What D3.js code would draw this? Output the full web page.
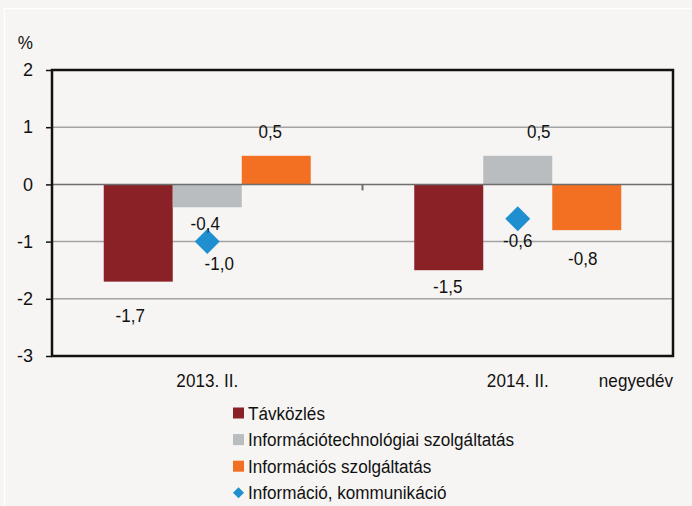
<!DOCTYPE html>
<html>
<head>
<meta charset="utf-8">
<script src="https://cdn.jsdelivr.net/npm/d3@7"></script>
<style>
  body { margin: 0; background: #f6f5f3; }
  svg { display: block; font-family: "Liberation Sans", Arial, sans-serif; }
</style>
</head>
<body>
<svg id="drawing_region"></svg>
<script>
// data
const categories = ["2013. II.", "2014. II."];
const barSeries = ["Távközlés", "Információtechnológiai szolgáltatás", "Információs szolgáltatás"];
const tavkozles = [-1.7, -1.5];
const infotech = [-0.4, 0.5];
const infoszolg = [0.5, -0.8];
const infoKomm = [-1.0, -0.6];
const pointSeries = "Információ, kommunikáció";
const yTicks = [2, 1, 0, -1, -2, -3];

// label nudges (px) relative to default spot, per series per category
const barLabelNudge = [
  [[-8, 18], [-1, 0]],
  [[-2, 0], [21, 0]],
  [[-6, 0], [-4, 12]]
];
const pointLabelNudge = [[12, 0], [0, 0]];

const colors = ["#8a2127", "#b9bdc0", "#f37022"];
const diamondColor = "#1f8fd0";

const config = {
  width: 692,
  height: 506,
  margin: { top: 70, right: 19, bottom: 150, left: 52 }
};

// text drawn slightly condensed like the original (narrow Arial look)
function addText(parent, x, y, str, size, sx, anchor) {
  return parent.append("text")
    .attr("transform", `translate(${x}, ${y}) scale(${sx}, 1)`)
    .attr("dy", "0.35em")
    .attr("text-anchor", anchor || "middle")
    .attr("font-size", size + "px")
    .attr("fill", "#111")
    .text(str);
}

const svg = d3.select("#drawing_region")
  .attr("width", config.width)
  .attr("height", config.height);

svg.append("rect")
  .attr("x", 4.5).attr("y", 8.5)
  .attr("width", 720).attr("height", 520)
  .attr("fill", "#f6f5f3")
  .attr("stroke", "#ffffff")
  .attr("stroke-width", 1.5);

const inner_width = config.width - config.margin.left - config.margin.right;
const inner_height = 356 - config.margin.top;

const chart = svg.append("g")
  .attr("transform", `translate(${config.margin.left}, ${config.margin.top})`);

const xscale = d3.scaleBand()
  .domain(categories)
  .range([0, inner_width])
  .paddingInner(1 / 3)
  .paddingOuter(1 / 6);

const xsub = d3.scaleBand()
  .domain(barSeries)
  .range([0, xscale.bandwidth()]);

const yscale = d3.scaleLinear()
  .domain([-3, 2])
  .range([inner_height, 0]);

// gridlines
chart.selectAll(".grid")
  .data(yTicks.filter(d => d !== 0 && d !== 2 && d !== -3))
  .enter()
  .append("line")
  .attr("x1", 0).attr("x2", inner_width)
  .attr("y1", d => yscale(d)).attr("y2", d => yscale(d))
  .attr("stroke", "#a4a4a4")
  .attr("stroke-width", 1.5);

// bars
const barData = [tavkozles, infotech, infoszolg];
barSeries.forEach((s, i) => {
  chart.selectAll(".bar" + i)
    .data(barData[i])
    .enter()
    .append("rect")
    .attr("x", (d, j) => xscale(categories[j]) + xsub(s))
    .attr("y", d => yscale(Math.max(0, d)))
    .attr("width", xsub.bandwidth())
    .attr("height", d => Math.abs(yscale(d) - yscale(0)))
    .attr("fill", colors[i]);
});

// zero line
chart.append("line")
  .attr("x1", 0).attr("x2", inner_width)
  .attr("y1", yscale(0)).attr("y2", yscale(0))
  .attr("stroke", "#6e6e6e")
  .attr("stroke-width", 1.5);

// category separator tick on zero line
chart.append("line")
  .attr("x1", inner_width / 2).attr("x2", inner_width / 2)
  .attr("y1", yscale(0)).attr("y2", yscale(0) + 6)
  .attr("stroke", "#6e6e6e")
  .attr("stroke-width", 2);

// diamonds
chart.selectAll(".diamond")
  .data(infoKomm)
  .enter()
  .append("path")
  .attr("d", d3.symbol(d3.symbolSquare, 313))
  .attr("transform", (d, j) => `translate(${xscale(categories[j]) + xscale.bandwidth() / 2}, ${yscale(d)}) rotate(45)`)
  .attr("fill", diamondColor);

const fmt = v => d3.format(".1f")(v).replace(".", ",").replace("−", "-");

// bar labels
barSeries.forEach((s, i) => {
  barData[i].forEach((d, j) => {
    const x = xscale(categories[j]) + xsub(s) + xsub.bandwidth() / 2 + barLabelNudge[i][j][0];
    const y = (d < 0 ? yscale(d) + 16 : yscale(d) - 24) + barLabelNudge[i][j][1];
    addText(chart, x, y, fmt(d), 18.5, 0.92);
  });
});

// diamond labels
infoKomm.forEach((d, j) => {
  const x = xscale(categories[j]) + xscale.bandwidth() / 2 + pointLabelNudge[j][0];
  const y = yscale(d) + 22 + pointLabelNudge[j][1];
  addText(chart, x, y, fmt(d), 18.5, 0.92);
});

// frame
chart.append("rect")
  .attr("x", 0).attr("y", 0)
  .attr("width", inner_width).attr("height", inner_height)
  .attr("fill", "none")
  .attr("stroke", "#111")
  .attr("stroke-width", 2.5);

// y axis
const yaxis = d3.axisLeft(yscale)
  .tickValues(yTicks)
  .tickSize(6)
  .tickPadding(13)
  .tickFormat(d => d3.format("d")(d).replace("−", "-"));

const yaxis_group = chart.append("g").call(yaxis);
yaxis_group.select(".domain").remove();
yaxis_group.selectAll(".tick line").attr("stroke", "#111").attr("stroke-width", 1.5);
yaxis_group.selectAll(".tick text")
  .attr("font-size", "18px")
  .attr("font-family", "Liberation Sans, Arial, sans-serif")
  .attr("fill", "#111");

addText(chart, -19, -27, "%", 18, 0.95, "end");

// x category labels
categories.forEach(c => {
  addText(chart, xscale(c) + xscale.bandwidth() / 2, inner_height + 25, c, 18, 0.95);
});
addText(chart, inner_width, inner_height + 25, "negyedév", 18, 0.95, "end");

// legend
const legend = svg.append("g").attr("transform", "translate(233, 0)");
const legendItems = barSeries.concat([pointSeries]);
legendItems.forEach((name, i) => {
  const cy = 413 + i * 26.6;
  if (i < 3) {
    legend.append("rect")
      .attr("x", 0).attr("y", cy - 5.5)
      .attr("width", 11).attr("height", 11)
      .attr("fill", colors[i]);
  } else {
    legend.append("path")
      .attr("d", d3.symbol(d3.symbolSquare, 60))
      .attr("transform", `translate(5.5, ${cy}) rotate(45)`)
      .attr("fill", diamondColor);
  }
  addText(legend, 15, cy, name, 19, 0.9, "start");
});
</script>
</body>
</html>
